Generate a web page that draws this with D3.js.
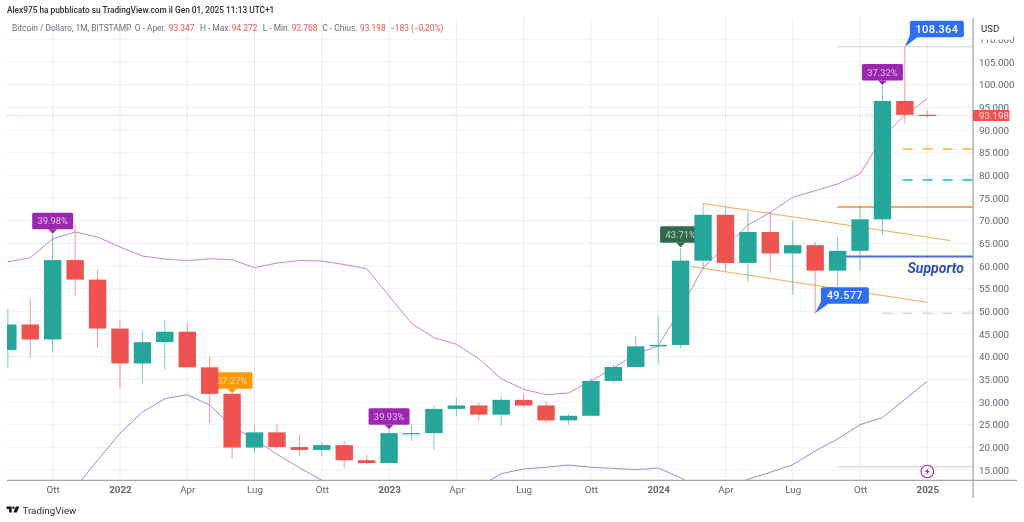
<!DOCTYPE html>
<html>
<head>
<meta charset="utf-8">
<script src="https://cdn.jsdelivr.net/npm/d3@7/dist/d3.min.js"></script>
<style>
html,body{margin:0;padding:0;background:#fff;overflow:hidden}
svg{display:block;filter:blur(0.5px)}
text{font-family:Roboto,Inter,"Noto Sans",sans-serif}
</style>
</head>
<body>
<svg id="chart" width="1024" height="522"></svg>
<script>
// ---- data ----
const months = ["2021-08","2021-09","2021-10","2021-11","2021-12","2022-01","2022-02","2022-03","2022-04","2022-05","2022-06","2022-07","2022-08","2022-09","2022-10","2022-11","2022-12","2023-01","2023-02","2023-03","2023-04","2023-05","2023-06","2023-07","2023-08","2023-09","2023-10","2023-11","2023-12","2024-01","2024-02","2024-03","2024-04","2024-05","2024-06","2024-07","2024-08","2024-09","2024-10","2024-11","2024-12","2025-01"];
const opens  = [41500,47100,43800,61300,57000,46200,38500,43200,45500,37650,31800,19950,23300,20050,19430,20490,17160,16540,23130,23140,28470,29240,27210,30470,29230,25940,26960,34650,37720,42280,42580,61180,71300,60670,67490,62770,64600,58970,63340,70290,96400,93347];
const closes = [47100,43800,61300,57000,46200,38500,43200,45500,37650,31800,19950,23300,20050,19430,20490,17160,16540,23130,23140,28470,29240,27210,30470,29230,25940,26960,34650,37720,42280,42580,61180,71300,60670,67490,62770,64600,58970,63340,70290,96400,93347,93198];
const highs  = [50450,52880,67000,69000,59100,47900,45850,48100,47500,40000,31900,24700,25100,22700,21100,21400,18300,23900,25100,29200,30950,29850,31400,31700,30100,27400,35200,38400,44600,49000,64000,73800,73000,72000,71700,70000,65400,66500,73300,99800,108364,94272];
const lows   = [37400,39650,41000,53400,42000,32950,34300,37150,37600,25400,17500,18800,19500,18100,18100,15500,16300,16500,21400,19500,26900,25800,24700,28800,25300,25000,26900,34100,37700,38500,41900,59300,59000,56500,58500,53600,49577,55600,58900,66800,91400,92768];
const bandUpper = [60883,61831,65956,67500,66397,64191,62206,61544,61170,61611,61390,59625,60662,61214,61103,60331,59405,53383,47360,44184,42728,39552,35140,32802,31610,31985,34633,37500,40588,42353,50515,59625,64258,69045,71846,75155,76611,78089,80295,88390,93309,96905];
const bandLower = [null,null,null,11030,17140,23096,27794,30728,31610,29338,24552,21772,18463,15507,12728,9640,8500,7500,7500,8000,9000,11250,14184,15220,15596,16103,15596,15375,15066,15441,13302,10368,10900,12949,14493,16169,19191,21838,24993,26537,30596,34566];
const priceTicks = [15000,20000,25000,30000,35000,40000,45000,50000,55000,60000,65000,70000,75000,80000,85000,90000,95000,100000,105000,110000];
const timeTickMonths = ["2021-10","2022-01","2022-04","2022-07","2022-10","2023-01","2023-04","2023-07","2023-10","2024-01","2024-04","2024-07","2024-10","2025-01"];
const timeTickLabels = ["Ott","2022","Apr","Lug","Ott","2023","Apr","Lug","Ott","2024","Apr","Lug","Ott","2025"];
const pctLabels = ["39.98%","37.27%","39.93%","43.71%","37.32%"];
const pctMonths = ["2021-10","2022-06","2023-01","2024-02","2024-11"];
const pctPrices = [67000,31800,23900,64000,99800];
const pctColors = ["#9c27b0","#ff9800","#9c27b0","#33694a","#9c27b0"];
const pctUnderCandles = [false,true,false,true,false];
const extremeMonths = ["2024-12","2024-08"];
const extremePrices = [108364,49577];
// channel ends as [fractional month index, price]
const channelTop = [[31,73800],[42.03,65600]];
const channelBottom = [[30.45,59900],[41,52000]];
const hLevels  = [108364,85800,79000,73000,62100,49577,15700];
const hStarts  = [37,39.9,39.9,37,37.35,39,37];
const hColors  = ["#cfcfcf","#f5b92e","#35c4d8","#f28c28","#4a6fd0","#d8d8d8","#dcdcdc"];
const hWidths  = [1.2,1.5,1.6,1.5,1.8,1.5,1.5];
const hDashes  = ["none","10 10","10 10","none","none","10 10","none"];
const lastPrice = 93198;
const legendParts = ["Bitcoin / Dollaro, 1M, BITSTAMP","O - Aper.","93.347","H - Max.","94.272","L - Min.","92.768","C - Chius.","93.198","−183 (−0,20%)"];
const legendRed = [false,false,true,false,true,false,true,false,true,true];
const legendX = [12,134.7,168.7,200,231.7,262.7,291.7,322.3,360,390];

// ---- layout ----
const plotL=7, plotR=973, plotT=18, plotB=480.3;
const svg=d3.select("#chart");
const it=d3.formatLocale({decimal:",",thousands:".",grouping:[3],currency:["","$"]});
const fmt=it.format(",d");
const idx=m=>months.indexOf(m);
const x=d3.scaleLinear().domain([2,41]).range([52.7,927.3]);
const y=d3.scaleLinear().domain([15000,105000]).range([470,62]);
svg.append("defs").append("clipPath").attr("id","plot").append("rect")
  .attr("x",plotL).attr("y",plotT).attr("width",plotR-plotL).attr("height",plotB-plotT);

// ---- grid ----
const grid=svg.append("g");
grid.selectAll("line.h").data(priceTicks).join("line").attr("x1",plotL).attr("x2",plotR)
  .attr("y1",d=>y(d)).attr("y2",d=>y(d)).attr("stroke","#eef0f3");
grid.selectAll("line.v").data(timeTickMonths).join("line").attr("x1",d=>x(idx(d))).attr("x2",d=>x(idx(d)))
  .attr("y1",plotT).attr("y2",plotB).attr("stroke","#e9ecf1");

// ---- last price dotted ----
svg.append("line").attr("x1",plotL).attr("x2",plotR).attr("y1",y(lastPrice)).attr("y2",y(lastPrice))
  .attr("stroke","#f7a0a0").attr("stroke-width",0.8).attr("stroke-dasharray","1 1.5");

const plot=svg.append("g").attr("clip-path","url(#plot)");

// ---- horizontal levels ----
plot.selectAll("line.lev").data(hLevels).join("line")
  .attr("x1",(d,i)=>x(hStarts[i])).attr("x2",plotR).attr("y1",d=>y(d)).attr("y2",d=>y(d))
  .attr("stroke",(d,i)=>hColors[i]).attr("stroke-width",(d,i)=>hWidths[i])
  .attr("stroke-dasharray",(d,i)=>hDashes[i]);

// ---- channel lines ----
const chanLine=d3.line().x(d=>x(d[0])).y(d=>y(d[1]));
[channelTop,channelBottom].forEach(ch=>plot.append("path").attr("d",chanLine(ch))
  .attr("stroke","#f3a95b").attr("fill","none"));

// ---- bollinger bands ----
const bandLine=d3.line().defined(d=>d!==null).x((d,i)=>x(i)).y(d=>y(d));
plot.append("path").attr("d",bandLine(bandUpper)).attr("fill","none").attr("stroke","#c583d8").attr("stroke-width",1);
plot.append("path").attr("d",bandLine(bandLower)).attr("fill","none").attr("stroke","#9f87dc").attr("stroke-width",1);

// ---- pct tags ----
const tagW=41,tagH=16.5,tip=4.5;
function drawTag(g,i){
  const cx=x(idx(pctMonths[i])), ty=y(pctPrices[i])-0.5;
  const top=ty-tip-tagH;
  g.append("rect").attr("x",cx-tagW/2).attr("y",top).attr("width",tagW).attr("height",tagH).attr("rx",1.5).attr("fill",pctColors[i]);
  g.append("path").attr("d",`M${cx-4.5},${top+tagH}L${cx},${ty}L${cx+4.5},${top+tagH}Z`).attr("fill",pctColors[i]);
  g.append("text").attr("x",cx).attr("y",top+tagH/2+3.2).attr("text-anchor","middle")
    .attr("font-size",9.4).attr("fill","#fff").attr("fill-opacity",0.68).text(pctLabels[i]);
}
const tagsUnder=svg.append("g");
pctLabels.forEach((_,i)=>{ if(pctUnderCandles[i]) drawTag(tagsUnder,i); });

// ---- candles ----
const candleW=17.4;
const c=svg.append("g").attr("clip-path","url(#plot)");
const col=i=>closes[i]>=opens[i]?"#26a69a":"#ef5350";
c.selectAll("line.w").data(months).join("line")
  .attr("x1",(d,i)=>x(i)).attr("x2",(d,i)=>x(i)).attr("y1",(d,i)=>y(highs[i])).attr("y2",(d,i)=>y(lows[i]))
  .attr("stroke",(d,i)=>col(i)).attr("stroke-opacity",0.6);
c.selectAll("rect.b").data(months).join("rect")
  .attr("x",(d,i)=>x(i)-candleW/2).attr("width",candleW)
  .attr("y",(d,i)=>y(Math.max(opens[i],closes[i])))
  .attr("height",(d,i)=>Math.max(1.2,Math.abs(y(opens[i])-y(closes[i]))))
  .attr("fill",(d,i)=>col(i));

const tagsOver=svg.append("g");
pctLabels.forEach((_,i)=>{ if(!pctUnderCandles[i]) drawTag(tagsOver,i); });

// ---- axes ----
const yAxis=d3.axisRight(y).tickValues(priceTicks).tickFormat(fmt).tickSize(0).tickPadding(6);
const gy=svg.append("g").attr("transform",`translate(${plotR},0)`).call(yAxis);
gy.select(".domain").remove();
gy.selectAll("text").attr("font-size",9.8).attr("fill","#62656f").style("font-family","Roboto");
svg.append("line").attr("x1",plotR).attr("x2",plotR).attr("y1",plotT).attr("y2",498).attr("stroke","#8d8f97").attr("stroke-width",1);

const xAxis=d3.axisBottom(x).tickValues(timeTickMonths.map(idx)).tickFormat((d,i)=>timeTickLabels[i]).tickSize(0).tickPadding(6);
const gx=svg.append("g").attr("transform",`translate(0,${plotB})`).call(xAxis);
gx.select(".domain").remove();
gx.selectAll("text").attr("font-size",9.8).attr("fill","#62656f").style("font-family","Roboto")
  .attr("font-weight",(d,i)=>/^\d/.test(timeTickLabels[i])?700:400);
svg.append("line").attr("x1",plotL).attr("x2",1017).attr("y1",plotB).attr("y2",plotB).attr("stroke","#8d8f97").attr("stroke-width",1);

// ---- USD box and last price ----
svg.append("rect").attr("x",975).attr("y",21).attr("width",38).attr("height",18.5).attr("fill","#fff");
svg.append("text").attr("x",981).attr("y",32.3).attr("font-size",9.6).attr("fill","#2a2e39").text("USD");
svg.append("rect").attr("x",973).attr("y",y(lastPrice)-5.5).attr("width",36.5).attr("height",11).attr("fill","#ef5350");
svg.append("text").attr("x",979).attr("y",y(lastPrice)+3.4).attr("font-size",9.8).attr("fill","#fff").attr("fill-opacity",.8).text(fmt(lastPrice));

// ---- extreme price callouts ----
function callout(cx,cy,rx,ry,rw,rh,label){
  const g=svg.append("g");
  g.append("rect").attr("x",rx).attr("y",ry).attr("width",rw).attr("height",rh).attr("rx",2).attr("fill","#2d6ff0");
  g.append("path").attr("d",`M${cx},${cy}L${rx},${ry+rh-2}L${rx+7.5},${ry+rh}Z`).attr("fill","#2d6ff0");
  g.append("text").attr("x",rx+rw/2).attr("y",ry+rh/2+3.8).attr("text-anchor","middle")
    .attr("font-size",11).attr("font-weight",500).attr("letter-spacing",0.3).attr("fill","#fff").text(label);
}
const ex0=x(idx(extremeMonths[0])), ey0=y(extremePrices[0]);
callout(ex0,ey0,ex0+5,ey0-26,54,16.6,fmt(extremePrices[0]));
const ex1=x(idx(extremeMonths[1])), ey1=y(extremePrices[1]);
callout(ex1,ey1,ex1+5.7,ey1-26,48,16.6,fmt(extremePrices[1]));

// ---- Supporto ----
svg.append("text").attr("x",907.5).attr("y",272.7).attr("font-size",14).attr("font-weight",700).attr("font-style","italic")
  .attr("fill","#2b4fbf").text("Supporto");

// ---- lightning icon ----
const ic=svg.append("g").attr("transform",`translate(${x(idx("2025-01"))},471.5)`);
ic.append("circle").attr("r",6.3).attr("fill","#fff").attr("stroke","#9c27b0").attr("stroke-width",1.1);
ic.append("path").attr("d","M1.2,-3.6L-2.4,0.6H-0.4L-1.2,3.6L2.4,-0.6H0.4Z").attr("fill","#9c27b0");

// ---- header ----
svg.append("text").attr("x",7).attr("y",13.3).attr("font-size",8.3).attr("font-weight",500).attr("fill","#2a2e39")
  .text("Alex975 ha pubblicato su TradingView.com il Gen 01, 2025 11:13 UTC+1");
svg.append("g").selectAll("text").data(legendParts).join("text")
  .attr("x",(d,i)=>legendX[i]).attr("y",31.3).attr("font-size",8.4)
  .attr("fill",(d,i)=>legendRed[i]?"#ef5350":"#6a6d78").text(d=>d);

// ---- logo ----
const lg=svg.append("g").attr("transform","translate(6.5,506.5)");
lg.append("path").attr("d","M0,0H5.2V6H2.6V2.4H0Z").attr("fill","#131722");
lg.append("circle").attr("cx",7).attr("cy",1.2).attr("r",1.2).attr("fill","#131722");
lg.append("path").attr("d","M9.4,0H13L10.2,6H6.8Z").attr("fill","#131722");
svg.append("text").attr("x",22.5).attr("y",514).attr("font-size",9.8).attr("fill","#2a2e39").text("TradingView");
</script>
</body>
</html>
